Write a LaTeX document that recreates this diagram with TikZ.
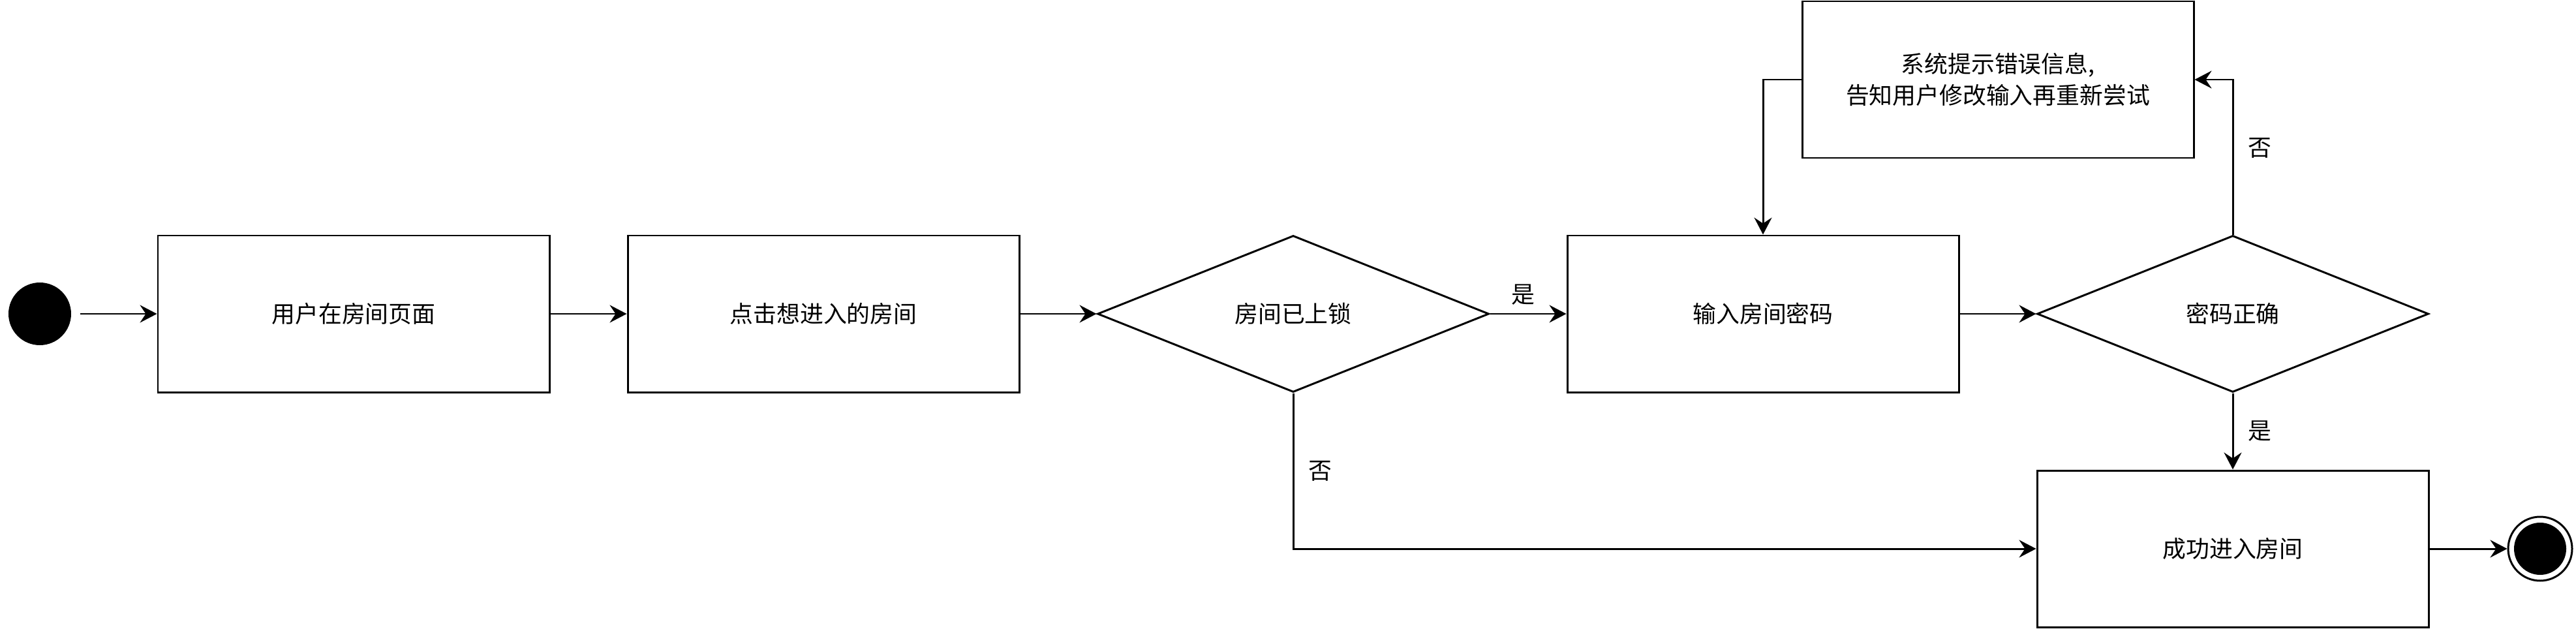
\documentclass[tikz,border=0pt]{standalone}
\usepackage{fontspec}
\newfontfamily\cjk{Noto Sans CJK SC}
\usetikzlibrary{calc,positioning,shapes.geometric,arrows.meta}

\begin{document}
\begin{tikzpicture}[font=\cjk\fontsize{10.2pt}{13.6pt}\selectfont, line width=0.85pt,
    >={Stealth[length=0.26cm, width=0.27cm, inset=0.09cm]}]
\tikzstyle{act} = [rectangle, draw, minimum width=6cm, minimum height=2.4cm, align=center];
\tikzstyle{cond} = [diamond, draw, minimum width=6cm, minimum height=2.4cm, inner sep=0pt];

    \useasboundingbox (0,0) rectangle (39.48,9.63);

    % main row
    \node (start) at (0.61,4.82) [circle, fill, minimum size=0.96cm, inner sep=0pt] {};
    \node (room) [right of=start, node distance=4.81cm, act] {用户在房间页面};
    \node (pick) [right of=room, node distance=7.2cm, act] {点击想进入的房间};
    \node (lock) [right of=pick, node distance=7.2cm, cond] {房间已上锁};
    \node (pwd) [right of=lock, node distance=7.2cm, act] {输入房间密码};
    \node (check) [right of=pwd, node distance=7.2cm, cond] {密码正确};

    \node (err) at ($($(pwd)!0.5!(check)$) + (0,3.59)$) [act] {系统提示错误信息,\\告知用户修改输入再重新尝试};
    \node (ok) [below of=check, node distance=3.6cm, act] {成功进入房间};

    \node (stop) [right of=ok, node distance=4.71cm, circle, draw, minimum size=0.98cm, inner sep=0pt] {};
    \node (stopin) at (stop) [circle, fill, minimum size=0.8cm, inner sep=0pt] {};

    \draw[->, shorten <=0.13cm] (start) -- (room);
    \draw[->] (room) -- (pick);
    \draw[->] (pick) -- (lock);
    \draw[->] (lock) -- node[above, xshift=-0.08cm] {是} (pwd);
    \draw[->] (pwd) -- (check);
    \draw[->] (check.north) |- node[pos=0.28, right, xshift=0.1cm] {否} (err.east);
    \draw[->] (err.west) -| (pwd.north);
    \draw[->] (check.south) -- node[right, xshift=0.1cm] {是} (ok.north);
    \draw[->] (lock.south) |- node[pos=0.25, right, xshift=0.1cm] {否} (ok.west);
    \draw[->] (ok) -- (stop);

\end{tikzpicture}
\end{document}
